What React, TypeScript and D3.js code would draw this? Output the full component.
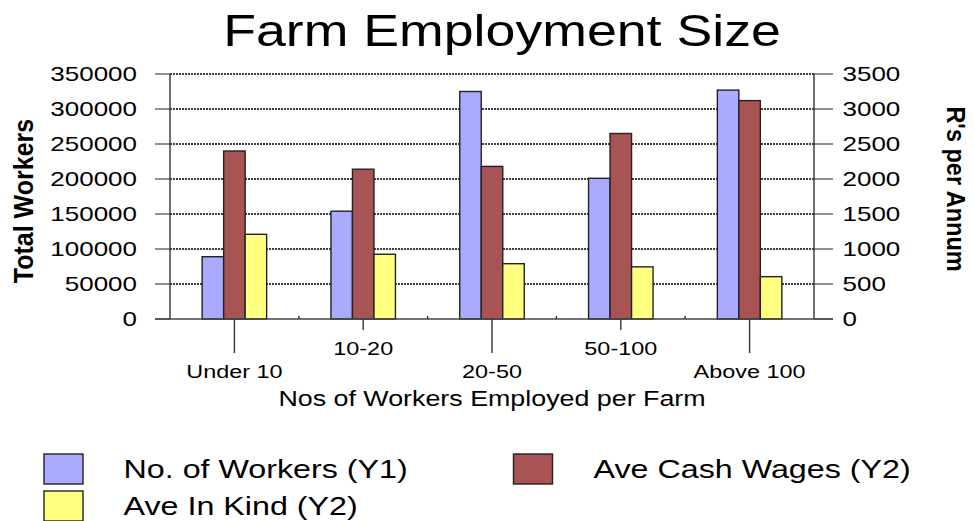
import React from "react";
import * as d3 from "d3";

const categories = ["Under 10", "10-20", "20-50", "50-100", "Above 100"];
const workers = [89000, 154000, 325000, 201000, 327000];
const cashWages = [2400, 2140, 2180, 2650, 3120];
const inKind = [1210, 925, 790, 745, 605];
const leftTicks = [0, 50000, 100000, 150000, 200000, 250000, 300000, 350000];
const rightTicks = [0, 500, 1000, 1500, 2000, 2500, 3000, 3500];
const seriesNames = ["No. of Workers (Y1)", "Ave Cash Wages (Y2)", "Ave In Kind (Y2)"];
const seriesColors = ["#AAAAFF", "#A85454", "#FFFF80"];

const FONT = "'Liberation Sans', Arial, sans-serif";

const X0 = 170, X1 = 814, YT = 74, YB = 319;

function SText({ x, y, sx = 1.25, size, anchor = "start", rotate = 0, weight = "normal", children }: any) {
  return (
    <text
      transform={`translate(${x},${y}) scale(${sx},1)${rotate ? ` rotate(${rotate})` : ""}`}
      fontSize={size}
      fontFamily={FONT}
      fontWeight={weight}
      textAnchor={anchor}
      fill="#000"
    >
      {children}
    </text>
  );
}

export default function App() {
  const x = d3.scaleBand<string>().domain(categories).range([X0, X1]);
  const y1 = d3.scaleLinear().domain([0, 350000]).range([YB, YT]);
  const y2 = d3.scaleLinear().domain([0, 3500]).range([YB, YT]);
  const barW = 21.5;
  const series = [
    { vals: workers, scale: y1 },
    { vals: cashWages, scale: y2 },
    { vals: inKind, scale: y2 },
  ];
  const fmt = d3.format("d");

  return (
    <svg width={974} height={521} style={{ position: "absolute", left: 0, top: 0, background: "#fff" }}>
      <rect x={0} y={0} width={974} height={521} fill="#fff" />
      <SText x={502} y={45.5} size={44} sx={1.22} anchor="middle">Farm Employment Size</SText>

      {/* gridlines */}
      {leftTicks.map((t) => (
        <g key={"g" + t}>
          <line x1={155} x2={X0} y1={y1(t)} y2={y1(t)} stroke="#555" strokeWidth={1.3} />
          <line x1={X1} x2={833} y1={y1(t)} y2={y1(t)} stroke="#555" strokeWidth={1.3} />
          {t > 0 && (
            <line x1={X0} x2={X1} y1={y1(t)} y2={y1(t)} stroke="#000" strokeWidth={1.5} strokeDasharray="2,1" />
          )}
        </g>
      ))}

      {/* bars */}
      {categories.map((c, i) => {
        const cx = (x(c) as number) + x.bandwidth() / 2;
        const start = cx - (barW * 3) / 2;
        return (
          <g key={c}>
            {series.map((s, j) => (
              <rect
                key={j}
                x={start + j * barW}
                y={s.scale(s.vals[i])}
                width={barW}
                height={YB - s.scale(s.vals[i])}
                fill={seriesColors[j]}
                stroke="#222"
                strokeWidth={1.4}
              />
            ))}
          </g>
        );
      })}

      {/* axes */}
      <line x1={X0} x2={X0} y1={YT} y2={YB} stroke="#333" strokeWidth={1.4} />
      <line x1={X1} x2={X1} y1={YT} y2={YB} stroke="#333" strokeWidth={1.4} />
      <line x1={155} x2={833} y1={YB} y2={YB} stroke="#444" strokeWidth={1.4} />

      {/* minor ticks at band boundaries */}
      {categories.slice(1).map((c) => (
        <line key={"m" + c} x1={x(c) as number} x2={x(c) as number} y1={YB - 3} y2={YB} stroke="#333" strokeWidth={1.4} />
      ))}

      {/* category ticks & labels */}
      {categories.map((c, i) => {
        const cx = (x(c) as number) + x.bandwidth() / 2;
        const long = i % 2 === 0;
        return (
          <g key={"t" + c}>
            <line x1={cx} x2={cx} y1={YB} y2={long ? 353 : 330} stroke="#333" strokeWidth={1.4} />
            <SText x={cx} y={long ? 378.3 : 355} size={18.6} sx={1.26} anchor="middle">{c}</SText>
          </g>
        );
      })}

      {/* y tick labels */}
      {leftTicks.map((t) => (
        <SText key={"l" + t} x={137} y={y1(t) + 7.2} size={20} sx={1.3} anchor="end">{fmt(t)}</SText>
      ))}
      {rightTicks.map((t) => (
        <SText key={"r" + t} x={842.5} y={y2(t) + 7.2} size={20} sx={1.3} anchor="start">{fmt(t)}</SText>
      ))}

      {/* axis titles */}
      <SText x={492} y={405.5} size={22} sx={1.22} anchor="middle">Nos of Workers Employed per Farm</SText>
      <SText x={33} y={201} size={25} sx={1.08} anchor="middle" rotate={-90} weight="bold">Total Workers</SText>
      <SText x={947} y={189} size={23.5} sx={1.12} anchor="middle" rotate={90} weight="bold">R's per Annum</SText>

      {/* legend */}
      {[
        { sx: 44, sy: 454, tx: 123.5, ty: 478.3 },
        { sx: 513.5, sy: 454, tx: 593.5, ty: 478.3 },
        { sx: 44, sy: 491, tx: 123.5, ty: 515 },
      ].map((p, j) => (
        <g key={"lg" + j}>
          <rect x={p.sx} y={p.sy} width={39} height={30} fill={seriesColors[j]} stroke="#222" strokeWidth={1.4} />
          <SText x={p.tx} y={p.ty} size={25.5} sx={1.265}>{seriesNames[j]}</SText>
        </g>
      ))}
    </svg>
  );
}
